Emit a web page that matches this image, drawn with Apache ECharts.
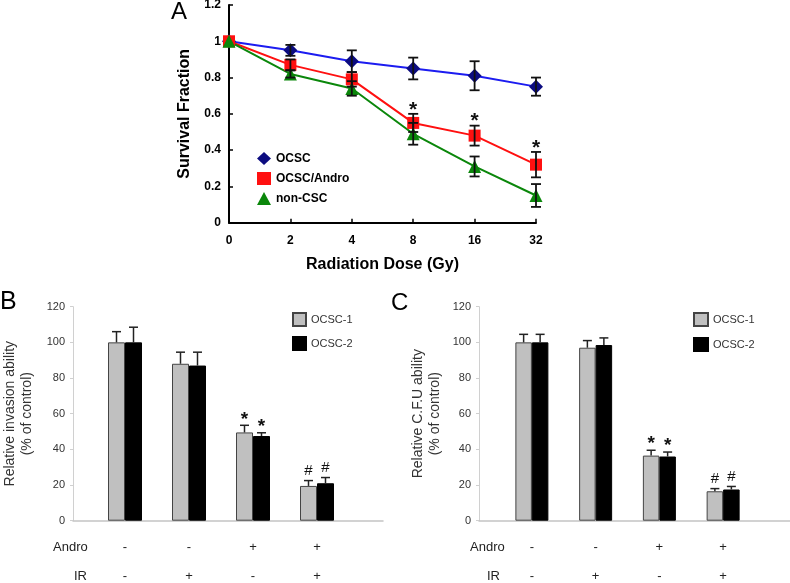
<!DOCTYPE html>
<html>
<head>
<meta charset="utf-8">
<script src="https://cdn.jsdelivr.net/npm/echarts/dist/echarts.min.js"></script>
<style>
  html, body { margin: 0; padding: 0; background: #fff; }
  #chart { width: 790px; height: 583px; }
</style>
</head>
<body>
<div id="chart"></div>
<script>
// panel A - survival fraction
const doses = ['0', '2', '4', '8', '16', '32'];
const ocsc = [1, 0.95, 0.89, 0.85, 0.81, 0.75];
const ocscErr = [0, 0.03, 0.06, 0.06, 0.08, 0.05];
const ocscAndro = [1, 0.87, 0.79, 0.55, 0.48, 0.32];
const ocscAndroErr = [0, 0.03, 0.04, 0.05, 0.055, 0.07];
const ocscAndroSig = ['', '', '', '*', '*', '*'];
const nonCsc = [1, 0.82, 0.74, 0.49, 0.31, 0.15];
const nonCscErr = [0, 0.02, 0.04, 0.06, 0.055, 0.063];
const noSig = ['', '', '', '', '', ''];

// panels B and C - treatment rows
const androRow = ['-', '-', '+', '+'];
const irRow = ['-', '+', '-', '+'];

const invasion1 = [100, 88, 49.5, 19.5];
const invasion1Err = [6, 6.5, 4, 3];
const invasion2 = [100, 87, 47.5, 21];
const invasion2Err = [8.5, 7.5, 1.8, 3.2];
const invasionSig = ['', '', '*', '#'];

const cfu1 = [100, 97, 36.5, 16.5];
const cfu1Err = [4.5, 4, 3, 1.5];
const cfu2 = [100, 98.5, 36, 17.5];
const cfu2Err = [4.5, 4, 2.5, 1.7];
const cfuSig = ['', '', '*', '#'];

const FONT = '"Liberation Sans", Arial, sans-serif';
const BAR_W_B = 17;
const BAR_W_C = 16.5;

function errorBar(values, errs, sig, opt) {
  return function (params, api) {
    const i = params.dataIndex;
    const base = api.coord([i, values[i]]);
    const x = base[0] + opt.offset;
    const top = api.coord([i, values[i] + errs[i]])[1];
    const bottom = opt.both ? api.coord([i, values[i] - errs[i]])[1] : base[1];
    const st = { stroke: opt.color, lineWidth: opt.width };
    const children = [];
    if (errs[i] > 0) {
      children.push({ type: 'line', shape: { x1: x, y1: top, x2: x, y2: bottom }, style: st });
      children.push({ type: 'line', shape: { x1: x - opt.cap, y1: top, x2: x + opt.cap, y2: top }, style: st });
      if (opt.both) {
        children.push({ type: 'line', shape: { x1: x - opt.cap, y1: bottom, x2: x + opt.cap, y2: bottom }, style: st });
      }
    }
    if (sig[i]) {
      const star = sig[i] === '*';
      children.push({
        type: 'text',
        style: {
          text: sig[i], x: x, y: top - (star ? opt.starGap : opt.hashGap),
          align: 'center', verticalAlign: 'middle', fill: '#111',
          font: (star ? opt.starFont : opt.hashFont)
        }
      });
    }
    return { type: 'group', children: children };
  };
}

function pairs(arr) { return arr.map((v, i) => [i, v]); }

const chart = echarts.init(document.getElementById('chart'));

const rowLabel = (v, i) => androRow[i] + '\n' + irRow[i];

const wideX = (g) => ({
  gridIndex: g, type: 'value', min: 0, max: 1,
  axisLine: { show: true, lineStyle: { color: '#c4c4c4', width: 1.5 } },
  axisTick: { show: false }, axisLabel: { show: false }, splitLine: { show: false }
});
const narrowX = (g) => ({
  gridIndex: g, type: 'category', data: androRow,
  axisLine: { show: false }, axisTick: { show: false },
  axisLabel: { formatter: rowLabel, fontFamily: FONT, fontSize: 13, color: '#222', lineHeight: 29, margin: 12 }
});
const barY = (g, name, gap) => ({
  gridIndex: g, type: 'value', min: 0, max: 120, interval: 20,
  axisLine: { show: true, lineStyle: { color: '#d0d0d0', width: 1 } },
  axisTick: { show: true, length: 3, lineStyle: { color: '#d0d0d0' } },
  axisLabel: { fontFamily: FONT, fontSize: 11, color: '#333', margin: 8 },
  splitLine: { show: false },
  name: name, nameLocation: 'middle', nameGap: gap,
  nameTextStyle: { fontFamily: FONT, fontSize: 14, color: '#333', lineHeight: 17 }
});
const hiddenY = (g) => ({ gridIndex: g, type: 'value', min: 0, max: 120, show: false });

const barStyle1 = { color: '#c0c0c0', borderColor: '#444', borderWidth: 1 };
const barStyle2 = { color: '#000', borderColor: '#000', borderWidth: 1 };

const barErrOpt = (offset) => ({
  offset: offset, both: false, color: '#222', width: 1.5, cap: 4.5,
  starGap: 6, hashGap: 10,
  starFont: 'bold 19px ' + FONT, hashFont: '15px ' + FONT
});
const lineErrOpt = {
  offset: 0, both: true, color: '#111', width: 1.8, cap: 5,
  starGap: 4, hashGap: 10,
  starFont: 'bold 21px ' + FONT, hashFont: '14px ' + FONT
};

const gridBase = { outerBoundsMode: 'none', containLabel: false };

chart.setOption({
  animation: false,
  backgroundColor: '#fff',
  textStyle: { fontFamily: FONT },
  grid: [
    Object.assign({ left: 229, top: 5, width: 307, height: 217.7 }, gridBase),
    Object.assign({ left: 73, top: 306.7, width: 310, height: 214 }, gridBase),
    Object.assign({ left: 93, top: 306.7, width: 256, height: 214 }, gridBase),
    Object.assign({ left: 479, top: 306.7, width: 311, height: 214 }, gridBase),
    Object.assign({ left: 500, top: 306.7, width: 255, height: 214 }, gridBase)
  ],
  xAxis: [
    {
      gridIndex: 0, type: 'category', data: doses, boundaryGap: false,
      axisLine: { lineStyle: { color: '#000', width: 2 } },
      axisTick: { inside: true, length: 4, lineStyle: { color: '#000', width: 1.5 } },
      axisLabel: { fontFamily: FONT, fontWeight: 'bold', fontSize: 12, color: '#000', margin: 12 },
      name: 'Radiation Dose (Gy)', nameLocation: 'middle', nameGap: 34,
      nameTextStyle: { fontFamily: FONT, fontWeight: 'bold', fontSize: 16, color: '#000' }
    },
    wideX(1), narrowX(2), wideX(3), narrowX(4)
  ],
  yAxis: [
    {
      gridIndex: 0, type: 'value', min: 0, max: 1.2, interval: 0.2,
      axisLine: { show: true, lineStyle: { color: '#000', width: 2 } },
      axisTick: { show: true, inside: true, length: 4, lineStyle: { color: '#000', width: 1.5 } },
      axisLabel: { fontFamily: FONT, fontWeight: 'bold', fontSize: 12, color: '#000', margin: 8 },
      splitLine: { show: false },
      name: 'Survival Fraction', nameLocation: 'middle', nameGap: 36,
      nameTextStyle: { fontFamily: FONT, fontWeight: 'bold', fontSize: 16, color: '#000' }
    },
    barY(1, 'Relative invasion ability\n(% of control)', 37),
    hiddenY(2),
    barY(3, 'Relative C.F.U ability\n(% of control)', 35),
    hiddenY(4)
  ],
  legend: [
    {
      orient: 'vertical', left: 252, top: 147, itemWidth: 14, itemHeight: 13, itemGap: 7,
      textStyle: { fontFamily: FONT, fontWeight: 'bold', fontSize: 12, color: '#000' },
      data: [
        { name: 'OCSC', icon: 'diamond' },
        { name: 'OCSC/Andro', icon: 'rect' },
        { name: 'non-CSC', icon: 'triangle' }
      ]
    },
    {
      orient: 'vertical', left: 287, top: 307, itemWidth: 13, itemHeight: 13, itemGap: 9,
      textStyle: { fontFamily: FONT, fontSize: 11, color: '#333' },
      data: [{ name: 'OCSC-1', icon: 'rect' }, { name: 'OCSC-2', icon: 'rect' }]
    },
    {
      orient: 'vertical', left: 688, top: 307, itemWidth: 14, itemHeight: 13, itemGap: 10,
      textStyle: { fontFamily: FONT, fontSize: 11, color: '#333' },
      data: [{ name: 'OCSC-1', icon: 'rect' }, { name: 'OCSC-2', icon: 'rect' }]
    }
  ],
  graphic: [
    { type: 'text', left: 171, top: 0, style: { text: 'A', font: '24px ' + FONT, fill: '#000' } },
    { type: 'text', left: 0, top: 290, style: { text: 'B', font: '25px ' + FONT, fill: '#000' } },
    { type: 'text', left: 391, top: 291, style: { text: 'C', font: '24px ' + FONT, fill: '#000' } },
    { type: 'text', left: 53, top: 541, style: { text: 'Andro', font: '13px ' + FONT, fill: '#222' } },
    { type: 'text', left: 74, top: 570, style: { text: 'IR', font: '13px ' + FONT, fill: '#222' } },
    { type: 'text', left: 470, top: 541, style: { text: 'Andro', font: '13px ' + FONT, fill: '#222' } },
    { type: 'text', left: 487, top: 570, style: { text: 'IR', font: '13px ' + FONT, fill: '#222' } }
  ],
  series: [
    {
      name: 'OCSC', type: 'line', xAxisIndex: 0, yAxisIndex: 0, data: ocsc,
      symbol: 'diamond', symbolSize: 14, showAllSymbol: true,
      lineStyle: { color: '#1c1cf0', width: 2 }, itemStyle: { color: '#0c0c80' }
    },
    {
      name: 'OCSC/Andro', type: 'line', xAxisIndex: 0, yAxisIndex: 0, data: ocscAndro,
      symbol: 'rect', symbolSize: 12, showAllSymbol: true,
      lineStyle: { color: '#ff1010', width: 2 }, itemStyle: { color: '#ff1010' }
    },
    {
      name: 'non-CSC', type: 'line', xAxisIndex: 0, yAxisIndex: 0, data: nonCsc,
      symbol: 'triangle', symbolSize: 13, showAllSymbol: true,
      lineStyle: { color: '#0b870b', width: 2 }, itemStyle: { color: '#0b870b' }
    },
    { type: 'custom', xAxisIndex: 0, yAxisIndex: 0, data: pairs(ocsc), z: 5,
      renderItem: errorBar(ocsc, ocscErr, noSig, lineErrOpt) },
    { type: 'custom', xAxisIndex: 0, yAxisIndex: 0, data: pairs(ocscAndro), z: 5,
      renderItem: errorBar(ocscAndro, ocscAndroErr, ocscAndroSig, lineErrOpt) },
    { type: 'custom', xAxisIndex: 0, yAxisIndex: 0, data: pairs(nonCsc), z: 5,
      renderItem: errorBar(nonCsc, nonCscErr, noSig, lineErrOpt) },

    { name: 'OCSC-1', type: 'bar', xAxisIndex: 2, yAxisIndex: 2, data: invasion1,
      barWidth: BAR_W_B, barGap: '0%', itemStyle: barStyle1 },
    { name: 'OCSC-2', type: 'bar', xAxisIndex: 2, yAxisIndex: 2, data: invasion2,
      barWidth: BAR_W_B, barGap: '0%', itemStyle: barStyle2 },
    { type: 'custom', xAxisIndex: 2, yAxisIndex: 2, data: pairs(invasion1), z: 5,
      renderItem: errorBar(invasion1, invasion1Err, invasionSig, barErrOpt(-BAR_W_B / 2)) },
    { type: 'custom', xAxisIndex: 2, yAxisIndex: 2, data: pairs(invasion2), z: 5,
      renderItem: errorBar(invasion2, invasion2Err, invasionSig, barErrOpt(BAR_W_B / 2)) },

    { name: 'OCSC-1', type: 'bar', xAxisIndex: 4, yAxisIndex: 4, data: cfu1,
      barWidth: BAR_W_C, barGap: '0%', itemStyle: barStyle1 },
    { name: 'OCSC-2', type: 'bar', xAxisIndex: 4, yAxisIndex: 4, data: cfu2,
      barWidth: BAR_W_C, barGap: '0%', itemStyle: barStyle2 },
    { type: 'custom', xAxisIndex: 4, yAxisIndex: 4, data: pairs(cfu1), z: 5,
      renderItem: errorBar(cfu1, cfu1Err, cfuSig, barErrOpt(-BAR_W_C / 2)) },
    { type: 'custom', xAxisIndex: 4, yAxisIndex: 4, data: pairs(cfu2), z: 5,
      renderItem: errorBar(cfu2, cfu2Err, cfuSig, barErrOpt(BAR_W_C / 2)) }
  ]
});
</script>
</body>
</html>
